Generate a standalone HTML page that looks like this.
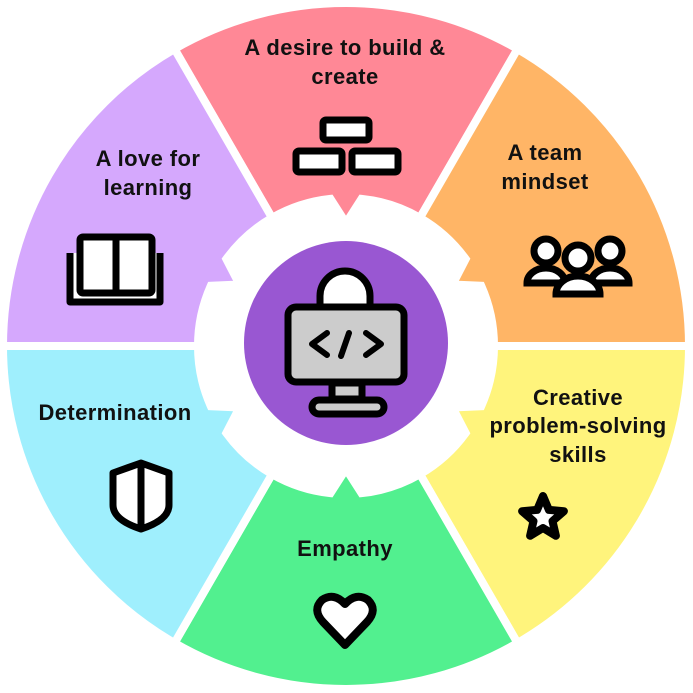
<!DOCTYPE html>
<html><head><meta charset="utf-8"><style>
html,body{margin:0;padding:0;background:#fff}
svg{display:block}
text{font-family:"Liberation Sans",sans-serif;font-weight:bold;font-size:22px;letter-spacing:0.4px;fill:#111;text-anchor:middle}
</style></head><body>
<svg id="s" width="693" height="693" viewBox="0 0 693 693" xmlns="http://www.w3.org/2000/svg">
<g id="segs"></g>
<circle cx="346" cy="343" r="102" fill="#9957D2"/>
<g stroke="#000" stroke-width="7" stroke-linejoin="round" stroke-linecap="round">
<path d="M320 306 V296 A24 24 0 0 1 370 296 V306" fill="#fff"/>
<rect x="288" y="307" width="116" height="75" rx="8" fill="#ccc"/>
<rect x="332" y="383" width="30" height="16" fill="#ccc"/>
<rect x="312" y="400" width="72" height="14" rx="7" fill="#ccc"/>
<path d="M327 333 L312 344 L327 355 M349 333 L341 356 M366 333 L381 344 L366 355" fill="none" stroke-width="6"/>
</g>
<g stroke="#000" stroke-width="7" fill="#fff">
<rect x="323" y="120" width="46" height="20" rx="3"/>
<rect x="296" y="151" width="46" height="21" rx="3"/>
<rect x="352" y="151" width="46" height="21" rx="3"/>
</g>
<g stroke="#000" stroke-width="7" fill="#fff">
<circle cx="546" cy="251" r="12"/>
<circle cx="610" cy="251" r="12"/>
<path d="M527 283 A19 15 0 0 1 565 283 Z"/>
<path d="M591 283 A19 15 0 0 1 629 283 Z"/>
<circle cx="578" cy="258" r="13"/>
<path d="M556 294 A22 18 0 0 1 600 294 Z"/>
</g>
<g stroke="#000" stroke-width="7" fill="#fff" stroke-linejoin="round">
<path d="M70 253 V302 H160 V253"/>
<rect x="80" y="237" width="72" height="56" rx="3"/>
<line x1="116" y1="238" x2="116" y2="292"/>
</g>
<path d="M141 463 L113 473 V505 Q113 520 141 529 Q169 520 169 505 V473 Z M141 466 V527" stroke="#000" stroke-width="7" fill="#fff" stroke-linejoin="round"/>
<path id="star" stroke="#000" stroke-width="8" fill="#fff" stroke-linejoin="round"/>
<path d="M345 645 L323 622 Q312 610 322 600 Q334 592 345 604 Q356 592 368 600 Q378 610 367 622 Z" stroke="#000" stroke-width="8" fill="#fff" stroke-linejoin="round"/>
<text x="345" y="55">A desire to build &amp;</text>
<text x="345" y="84">create</text>
<text x="545" y="160">A team</text>
<text x="545" y="189">mindset</text>
<text x="578" y="405">Creative</text>
<text x="578" y="433">problem-solving</text>
<text x="578" y="462">skills</text>
<text x="345" y="556">Empathy</text>
<text x="115" y="420">Determination</text>
<text x="148" y="166">A love for</text>
<text x="148" y="195">learning</text>
</svg>
<script>
var cx=346,cy=346,R=343,ri=148,rt=123;
var cols=["#FF8896","#FFB566","#FFF47C","#52F08F","#9FEFFD","#D5A8FD"];
function P(r,a){a=a*Math.PI/180;return [(cx+r*Math.sin(a)).toFixed(1),(cy-r*Math.cos(a)).toFixed(1)].join(" ");}
var g=document.getElementById("segs"),h="";
for(var i=0;i<6;i++){var m=i*60,a1=m-30,a2=m+30;
var d="M"+P(R,a1)+" A"+R+" "+R+" 0 0 1 "+P(R,a2)+" L"+P(ri,a2)+" A"+ri+" "+ri+" 0 0 0 "+P(ri,m+6)+" L"+P(rt,m)+" L"+P(ri,m-6)+" A"+ri+" "+ri+" 0 0 0 "+P(ri,a1)+" Z";
h+='<path d="'+d+'" fill="'+cols[i]+'" stroke="#fff" stroke-width="8" stroke-linejoin="miter"/>';}
g.innerHTML=h;
var s="";for(var k=0;k<10;k++){var r=k%2?10:22,a=k*36*Math.PI/180;s+=(k?"L":"M")+(543+r*Math.sin(a)).toFixed(1)+" "+(518-r*Math.cos(a)).toFixed(1);}
document.getElementById("star").setAttribute("d",s+"Z");
</script>
</body></html>
